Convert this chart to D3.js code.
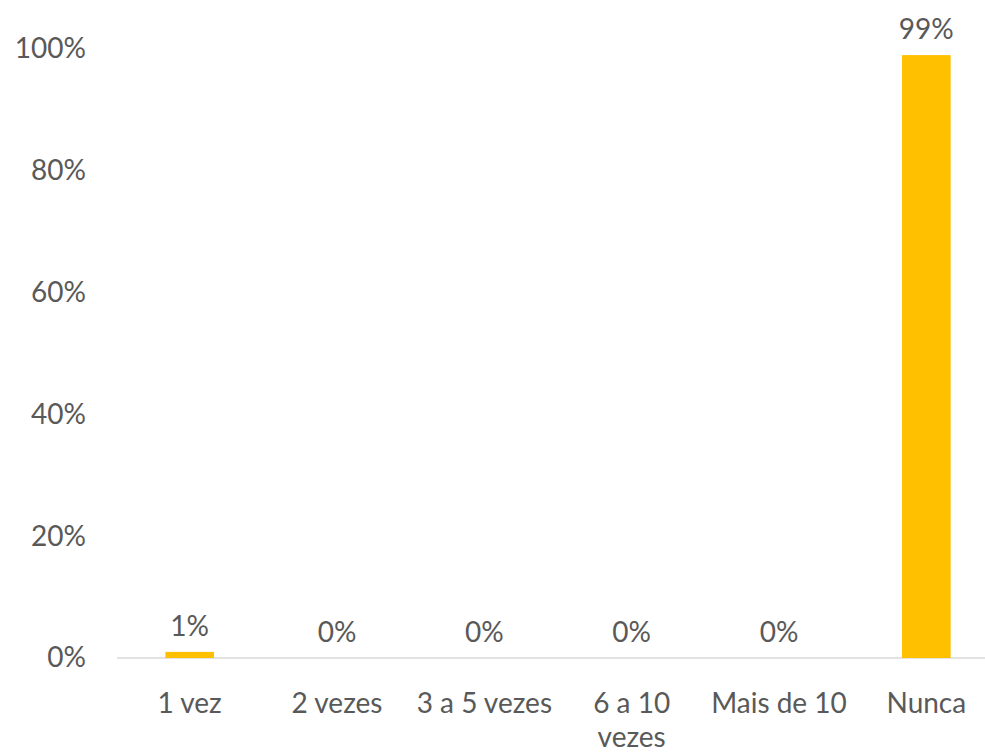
<!DOCTYPE html>
<html>
<head>
<meta charset="utf-8">
<script src="https://cdn.jsdelivr.net/npm/d3@7"></script>
<style>
  html, body { margin: 0; padding: 0; background: #fff; }
  svg { display: block; }
  text { font-family: Lato, "Open Sans", sans-serif; fill: #595959; }
</style>
</head>
<body>
<svg id="chart" width="985" height="754"></svg>
<script>
const categories = ["1 vez", "2 vezes", "3 a 5 vezes", "6 a 10 vezes", "Mais de 10", "Nunca"];
const values = [1, 0, 0, 0, 0, 99];
const valueLabels = ["1%", "0%", "0%", "0%", "0%", "99%"];
const yTicks = [0, 20, 40, 60, 80, 100];

const svg = d3.select("#chart");
const W = 985, H = 754;
const fontSize = 28;

const x = d3.scaleBand().domain(categories).range([116, 1000]).paddingInner(0.67).paddingOuter(0.335);
const y = d3.scaleLinear().domain([0, 100]).range([658, 49]);

// baseline
svg.append("line")
  .attr("x1", 117).attr("x2", W)
  .attr("y1", y(0)).attr("y2", y(0))
  .attr("stroke", "#d9d9d9").attr("stroke-width", 1.5);

// y axis labels
const yAxis = d3.axisLeft(y).tickValues(yTicks).tickFormat(d => d + "%").tickSize(0).tickPadding(0);
const yg = svg.append("g").attr("transform", "translate(86,0)").call(yAxis);
yg.select(".domain").remove();
yg.selectAll("text").style("font-size", fontSize + "px").style("font-family", "Lato, sans-serif").attr("fill", "#595959");

// bars
const data = categories.map((c, i) => ({ c, v: values[i], l: valueLabels[i] }));
svg.selectAll("rect.bar").data(data).enter().append("rect")
  .attr("class", "bar")
  .attr("x", d => x(d.c))
  .attr("width", x.bandwidth())
  .attr("y", d => y(d.v))
  .attr("height", d => y(0) - y(d.v))
  .attr("fill", "#FFC000");

// value labels
svg.selectAll("text.val").data(data).enter().append("text")
  .attr("class", "val")
  .attr("x", d => x(d.c) + x.bandwidth() / 2)
  .attr("y", d => y(d.v) - 16)
  .attr("text-anchor", "middle")
  .style("font-size", fontSize + "px")
  .text(d => d.l);

// category labels with wrapping
const maxW = 145;
const lineH = 34;
const xg = svg.append("g");
categories.forEach(c => {
  const cx = x(c) + x.bandwidth() / 2;
  const t = xg.append("text").attr("x", cx).attr("y", 713)
    .attr("text-anchor", "middle").style("font-size", fontSize + "px");
  const words = c.split(" ");
  let line = [];
  let lineNo = 0;
  let tspan = t.append("tspan").attr("x", cx).attr("y", 713);
  words.forEach(w => {
    line.push(w);
    tspan.text(line.join(" "));
    if (tspan.node().getComputedTextLength() > maxW && line.length > 1) {
      line.pop();
      tspan.text(line.join(" "));
      line = [w];
      lineNo++;
      tspan = t.append("tspan").attr("x", cx).attr("y", 713 + lineNo * lineH).text(w);
    }
  });
});
</script>
</body>
</html>
